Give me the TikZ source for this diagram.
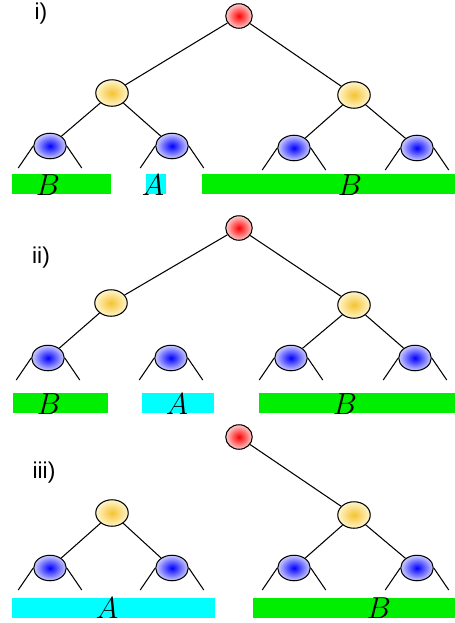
\documentclass[tikz,border=0pt]{standalone}
\usepackage{fontspec}
\setsansfont{Liberation Sans}
\usetikzlibrary{shapes.geometric}
\definecolor{gbar}{RGB}{0,238,0}
\definecolor{cbar}{RGB}{0,255,255}
\definecolor{yin}{RGB}{245,195,50}
\definecolor{yout}{RGB}{255,246,205}
\definecolor{bout}{RGB}{205,205,255}
\definecolor{rout}{RGB}{255,205,205}
\begin{document}
\begin{tikzpicture}[x=0.02cm,y=-0.02cm,
  edge/.style={line width=0.6pt},
  ellipse shape/.style={ellipse, draw, line width=0.6pt, inner sep=0pt},
  rootnode/.style={ellipse shape, minimum width=0.53cm, minimum height=0.49cm, inner color=red, outer color=rout},
  midnode/.style={ellipse shape, minimum width=0.65cm, minimum height=0.53cm, inner color=yin, outer color=yout},
  leafnode/.style={ellipse shape, minimum width=0.65cm, minimum height=0.51cm, inner color=blue, outer color=bout},
  lab/.style={font=\fontsize{18}{20}\selectfont, anchor=base, inner sep=0pt},
  sec/.style={font=\sffamily\fontsize{13}{15}\selectfont, inner sep=0pt}
]
\useasboundingbox (0,0) rectangle (455,623);

% ---------------- i) ----------------
\node[sec] (s1) at (41,14) {i)};
\fill[gbar] (12,174) rectangle (111,194);
\fill[cbar] (146,174) rectangle (166,194);
\fill[gbar] (202,174) rectangle (455,194);
\node[lab] (t1a) at (48,195) {$B$};
\node[lab] (t1b) at (153,195) {$A$};
\node[lab] (t1c) at (350,195) {$B$};
\node[rootnode] (r1) at (239,16) {};
\node[midnode] (m1a) at (112,93) {};
\node[midnode] (m1b) at (354,95) {};
\node[leafnode] (l1a) at (50,146) {};
\node[leafnode] (l1b) at (172,146) {};
\node[leafnode] (l1c) at (294,148) {};
\node[leafnode] (l1d) at (417,148) {};
\draw[edge] (r1) -- (m1a); \draw[edge] (r1) -- (m1b);
\draw[edge] (m1a) -- (l1a); \draw[edge] (m1a) -- (l1b);
\draw[edge] (m1b) -- (l1c); \draw[edge] (m1b) -- (l1d);
\foreach \n in {l1a,l1b,l1c,l1d}{
  \draw[edge] (\n.west) -- ++(-15,22);
  \draw[edge] (\n.east) -- ++(15,22);
}

% ---------------- ii) ----------------
\node[sec] (s2) at (41,258) {ii)};
\fill[gbar] (13,393) rectangle (108,413);
\fill[cbar] (142,393) rectangle (214,413);
\fill[gbar] (259,393) rectangle (455,413);
\node[lab] (t2a) at (49,414) {$B$};
\node[lab] (t2b) at (177,414) {$A$};
\node[lab] (t2c) at (345,414) {$B$};
\node[rootnode] (r2) at (239,228) {};
\node[midnode] (m2a) at (111,303) {};
\node[midnode] (m2b) at (354,305) {};
\node[leafnode] (l2a) at (48,358) {};
\node[leafnode] (l2b) at (171,358) {};
\node[leafnode] (l2c) at (291,358) {};
\node[leafnode] (l2d) at (415,358) {};
\draw[edge] (r2) -- (m2a); \draw[edge] (r2) -- (m2b);
\draw[edge] (m2a) -- (l2a);
\draw[edge] (m2b) -- (l2c); \draw[edge] (m2b) -- (l2d);
\foreach \n in {l2a,l2b,l2c,l2d}{
  \draw[edge] (\n.west) -- ++(-15,22);
  \draw[edge] (\n.east) -- ++(15,22);
}

% ---------------- iii) ----------------
\node[sec] (s3) at (44,473) {iii)};
\fill[cbar] (12,598) rectangle (215,618);
\fill[gbar] (253,598) rectangle (455,618);
\node[lab] (t3a) at (107,618) {$A$};
\node[lab] (t3b) at (379,618) {$B$};
\node[rootnode] (r3) at (239,437) {};
\node[midnode] (m3a) at (112,513) {};
\node[midnode] (m3b) at (354,515) {};
\node[leafnode] (l3a) at (50,568) {};
\node[leafnode] (l3b) at (172,568) {};
\node[leafnode] (l3c) at (294,568) {};
\node[leafnode] (l3d) at (417,568) {};
\draw[edge] (r3) -- (m3b);
\draw[edge] (m3a) -- (l3a); \draw[edge] (m3a) -- (l3b);
\draw[edge] (m3b) -- (l3c); \draw[edge] (m3b) -- (l3d);
\foreach \n in {l3a,l3b,l3c,l3d}{
  \draw[edge] (\n.west) -- ++(-15,22);
  \draw[edge] (\n.east) -- ++(15,22);
}
\end{tikzpicture}
\end{document}
